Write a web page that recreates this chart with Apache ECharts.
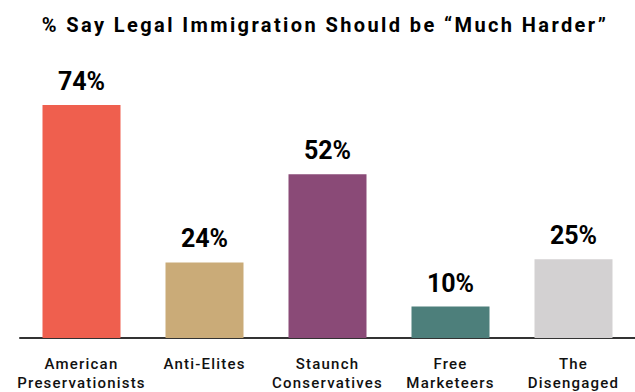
<!DOCTYPE html>
<html>
<head>
<meta charset="utf-8">
<script src="https://cdn.jsdelivr.net/npm/echarts@6/dist/echarts.min.js"></script>
<style>
  html, body { margin: 0; padding: 0; background: #ffffff; }
  #chart { width: 635px; height: 392px; }
</style>
</head>
<body>
<div id="chart"></div>
<script>
// Segments and their share saying legal immigration should be "much harder"
const segments = ['American\nPreservationists', 'Anti-Elites', 'Staunch\nConservatives', 'Free\nMarketeers', 'The\nDisengaged'];
const shares = [74, 24, 52, 10, 25];
const barColors = ['#ef5f4e', '#caab78', '#8a4a77', '#4d7f7b', '#d3d1d2'];

// Tracking (letter spacing) per font size, applied to the SVG text nodes
const tracking = { '20px': '2.4px', '15px': '1.2px' };

const chart = echarts.init(document.getElementById('chart'), null, { renderer: 'svg' });

chart.setOption({
  animation: false,
  backgroundColor: '#ffffff',
  title: {
    text: '% Say Legal Immigration Should be \u201cMuch Harder\u201d',
    left: 320,
    textAlign: 'center',
    top: 10,
    textStyle: {
      fontFamily: 'Roboto',
      fontWeight: 'bold',
      fontSize: 20,
      color: '#000000'
    }
  },
  grid: { left: 20, right: 0, top: 86, bottom: 48, containLabel: false },
  xAxis: {
    type: 'category',
    data: segments,
    axisLine: { lineStyle: { color: '#333333', width: 2 } },
    axisTick: { show: false },
    axisLabel: {
      interval: 0,
      margin: 16,
      fontFamily: 'Roboto',
      fontWeight: 500,
      fontSize: 15,
      lineHeight: 19,
      color: '#111111'
    }
  },
  yAxis: {
    type: 'value',
    min: 0,
    max: 80,
    show: false
  },
  series: [{
    type: 'bar',
    barWidth: 78,
    data: shares.map((v, i) => ({ value: v, itemStyle: { color: barColors[i] } })),
    label: {
      show: true,
      position: 'top',
      distance: 11,
      formatter: '{c}%',
      fontFamily: 'Roboto',
      fontWeight: 'bold',
      fontSize: 25,
      color: '#000000'
    }
  }]
});

function applyTracking() {
  document.querySelectorAll('#chart svg text').forEach(el => {
    const size = getComputedStyle(el).fontSize;
    if (tracking[size]) el.style.letterSpacing = tracking[size];
  });
}
applyTracking();
chart.on('finished', applyTracking);
</script>
</body>
</html>
